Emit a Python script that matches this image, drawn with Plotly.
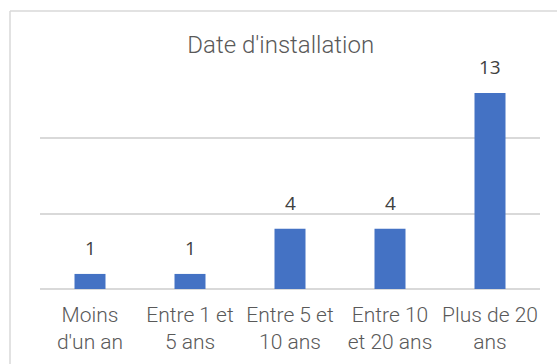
import plotly.graph_objects as go

categories = ["Moins<br>d'un an", "Entre 1 et<br>5 ans", "Entre 5 et<br>10 ans",
              "Entre 10<br>et 20 ans", "Plus de 20<br>ans"]
counts = [1, 1, 4, 4, 13]
title_text = "Date d'installation"

W, H = 557, 364
L, R, T, B = 40, 17, 78, 75
plot_w = W - L - R
plot_h = H - T - B

grey_line = "#d9d9d9"
text_grey = "#595959"
light_font = "Roboto"

fig = go.Figure()
fig.add_trace(go.Bar(
    x=list(range(len(categories))),
    y=counts,
    width=0.31,
    marker=dict(color="#4472C4", line=dict(width=0)),
    hoverinfo="skip",
))

# value labels above each bar
for i, v in enumerate(counts):
    fig.add_annotation(
        x=i, y=v, text=str(v), showarrow=False,
        yanchor="middle", yshift=26,
        font=dict(family="Open Sans", size=19, color="#404040"),
    )

def px_x(p):
    return (p - L) / plot_w

def px_y(p):
    return (H - B - p) / plot_h

# chart frame (left and top edges)
fig.add_shape(type="line", xref="paper", yref="paper",
              x0=px_x(10), x1=px_x(10), y0=px_y(370), y1=px_y(11),
              line=dict(color=grey_line, width=1.5))
fig.add_shape(type="line", xref="paper", yref="paper",
              x0=px_x(10), x1=px_x(570), y0=px_y(11), y1=px_y(11),
              line=dict(color=grey_line, width=1.5))

fig.update_layout(
    width=W, height=H,
    margin=dict(l=L, r=R, t=T, b=B, autoexpand=False),
    paper_bgcolor="white", plot_bgcolor="white",
    showlegend=False,
    title=dict(text=title_text, x=px_x(292), xanchor="center",
               y=1 - 45 / H, yanchor="middle",
               font=dict(family=light_font, size=24, color=text_grey, weight=300)),
    xaxis=dict(
        range=[-0.5, 4.5], automargin=False,
        tickmode="array", tickvals=list(range(len(categories))), ticktext=categories,
        showgrid=False, zeroline=False, showline=False, ticks="",
        tickfont=dict(family=light_font, size=21, color=text_grey, weight=300),
        ticklabelstandoff=11,
        fixedrange=True,
    ),
    yaxis=dict(
        range=[0, 14], dtick=5, showticklabels=False, automargin=False,
        showgrid=True, gridcolor=grey_line, gridwidth=1.5,
        zeroline=True, zerolinecolor=grey_line, zerolinewidth=1.5,
        fixedrange=True,
    ),
)

fig.write_html("out.html")
